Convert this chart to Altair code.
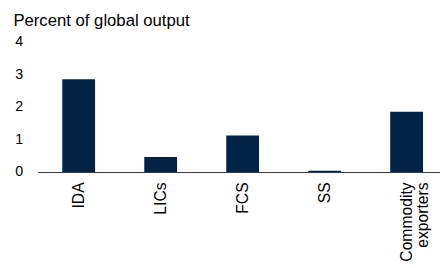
import altair as alt
import pandas as pd

categories = ["IDA", "LICs", "FCS", "SS", "Commodity\nexporters"]
values = [2.85, 0.46, 1.12, 0.04, 1.85]
y_ticks = [0, 1, 2, 3, 4]

df = pd.DataFrame({"cat": categories, "val": values})

FONT = "Liberation Sans"

chart = alt.Chart(df).mark_bar(color="#002345").encode(
    x=alt.X(
        "cat:N",
        sort=categories,
        scale=alt.Scale(paddingInner=0.6, paddingOuter=0.255, align=0.594),
        axis=alt.Axis(
            title=None,
            labelAngle=-90,
            labelFontSize=16,
            labelFont=FONT,
            labelColor="#000000",
            labelPadding=10,
            labelLineHeight=17,
            labelExpr="split(datum.label, '\\n')",
            ticks=False,
            tickSize=0,
            domainColor="#333333",
            domainWidth=1,
        ),
    ),
    y=alt.Y(
        "val:Q",
        scale=alt.Scale(domain=[0, 4], nice=False),
        axis=alt.Axis(
            title="Percent of global output",
            titleAngle=0,
            titleAlign="left",
            titleBaseline="alphabetic",
            titleX=-25,
            titleY=-17,
            titleFont=FONT,
            titleFontSize=17,
            titleFontWeight="normal",
            titleColor="#000000",
            values=y_ticks,
            labelFontSize=14.5,
            labelFont=FONT,
            labelColor="#000000",
            labelPadding=15,
            ticks=False,
            tickSize=0,
            domain=False,
            grid=False,
        ),
    ),
).properties(
    width=410,
    height=132.7,
    autosize=alt.AutoSizeParams(type="none"),
    padding={"left": 30, "top": 32, "right": 0, "bottom": 94},
).configure_view(stroke=None)

chart.save("out.html", embed_options={"renderer": "svg", "actions": False})
